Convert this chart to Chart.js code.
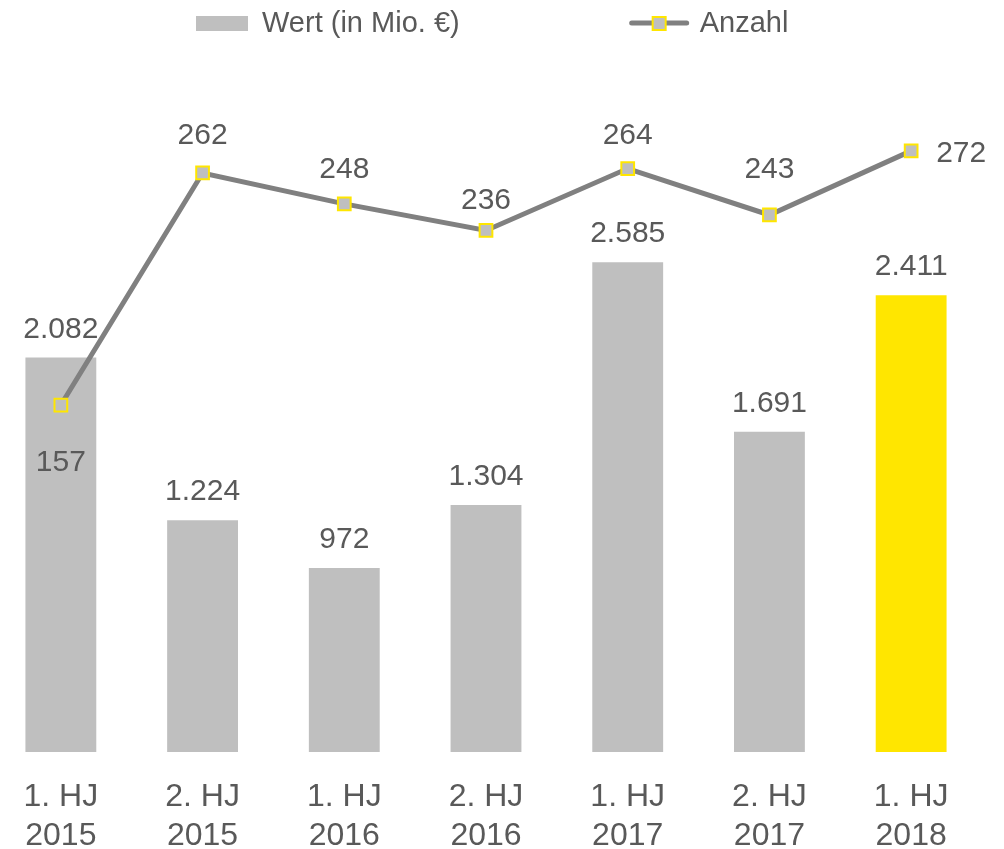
<!DOCTYPE html>
<html>
<head>
<meta charset="utf-8">
<script src="https://cdn.jsdelivr.net/npm/chart.js@4.4.0/dist/chart.umd.min.js"></script>
<style>
  html, body { margin: 0; padding: 0; overflow: hidden; background: #fff; }
  #wrap { position: absolute; left: -21px; top: 0; width: 1025px; height: 849px; }
</style>
</head>
<body>
<div id="wrap"><canvas id="chart"></canvas></div>
<script>
const labels = [
  ['1. HJ', '2015'], ['2. HJ', '2015'], ['1. HJ', '2016'], ['2. HJ', '2016'],
  ['1. HJ', '2017'], ['2. HJ', '2017'], ['1. HJ', '2018']
];
const wert = [2082, 1224, 972, 1304, 2585, 1691, 2411];
const anzahl = [157, 262, 248, 236, 264, 243, 272];
const barColors = ['#BFBFBF', '#BFBFBF', '#BFBFBF', '#BFBFBF', '#BFBFBF', '#BFBFBF', '#FFE600'];
// where the Anzahl value sits relative to its point
const anzahlLabelPos = ['below', 'above', 'above', 'above', 'above', 'above', 'right'];
const anzahlLabelGap = [66, 29, 26, 21, 25, 37, 25];
const seriesNames = ['Wert (in Mio. €)', 'Anzahl'];

const textColor = '#595959';
const fontFamily = '"Liberation Sans", Arial, sans-serif';
const shiftX = 21; // canvas is pushed left so the first bar sits near the edge

function fmt(v) {
  // German thousands separator
  return String(v).replace(/\B(?=(\d{3})+(?!\d))/g, '.');
}

const topLegend = {
  id: 'topLegend',
  afterDraw(chart) {
    const ctx = chart.ctx;
    ctx.save();
    ctx.font = '29px ' + fontFamily;
    ctx.textBaseline = 'middle';
    ctx.textAlign = 'left';
    const cy = 23;
    let x = 196 + shiftX;
    // bar item
    ctx.fillStyle = '#BFBFBF';
    ctx.fillRect(x, 16, 52, 15);
    x += 52 + 14;
    ctx.fillStyle = textColor;
    ctx.fillText(seriesNames[0], x, cy + 1);
    x += ctx.measureText(seriesNames[0]).width + 172;
    // line item
    ctx.strokeStyle = '#808080';
    ctx.lineWidth = 5;
    ctx.lineCap = 'round';
    ctx.beginPath();
    ctx.moveTo(x, cy);
    ctx.lineTo(x + 55, cy);
    ctx.stroke();
    ctx.fillStyle = '#BFBFBF';
    ctx.strokeStyle = '#FFE600';
    ctx.lineWidth = 2;
    ctx.fillRect(x + 21, cy - 6, 13, 13);
    ctx.strokeRect(x + 21, cy - 6, 13, 13);
    x += 55 + 13;
    ctx.fillStyle = textColor;
    ctx.fillText(seriesNames[1], x, cy + 1);
    ctx.restore();
  }
};

const valueLabels = {
  id: 'valueLabels',
  afterDatasetsDraw(chart) {
    const ctx = chart.ctx;
    ctx.save();
    ctx.font = '30px ' + fontFamily;
    ctx.fillStyle = textColor;
    ctx.textBaseline = 'alphabetic';
    ctx.textAlign = 'center';
    chart.getDatasetMeta(1).data.forEach((bar, i) => {
      ctx.fillText(fmt(wert[i]), bar.x, bar.y - 20);
    });
    chart.getDatasetMeta(0).data.forEach((pt, i) => {
      const pos = anzahlLabelPos[i];
      const gap = anzahlLabelGap[i];
      if (pos === 'below') {
        ctx.textAlign = 'center';
        ctx.fillText(fmt(anzahl[i]), pt.x, pt.y + gap);
      } else if (pos === 'right') {
        ctx.textAlign = 'left';
        ctx.fillText(fmt(anzahl[i]), pt.x + gap, pt.y + 11);
      } else {
        ctx.textAlign = 'center';
        ctx.fillText(fmt(anzahl[i]), pt.x, pt.y - gap);
      }
    });
    ctx.restore();
  }
};

new Chart(document.getElementById('chart'), {
  type: 'bar',
  data: {
    labels: labels,
    datasets: [
      {
        type: 'line',
        label: seriesNames[1],
        data: anzahl,
        yAxisID: 'y1',
        order: 0,
        borderColor: '#808080',
        borderWidth: 5,
        tension: 0,
        pointStyle: 'rect',
        pointRadius: 9,
        pointHoverRadius: 9,
        pointBackgroundColor: '#BFBFBF',
        pointBorderColor: '#FFE600',
        pointBorderWidth: 2
      },
      {
        type: 'bar',
        label: seriesNames[0],
        data: wert,
        yAxisID: 'y',
        order: 1,
        backgroundColor: barColors,
        barPercentage: 0.5,
        categoryPercentage: 1
      }
    ]
  },
  options: {
    responsive: true,
    maintainAspectRatio: false,
    animation: false,
    layout: { padding: { top: 89, right: 22, left: 0, bottom: 0 } },
    plugins: {
      legend: { display: false },
      tooltip: { enabled: false }
    },
    scales: {
      x: {
        grid: { display: false, drawTicks: false },
        border: { display: false },
        ticks: {
          color: textColor,
          padding: 25,
          font: { family: fontFamily, size: 32, lineHeight: 1.24 }
        },
        afterFit(scale) { scale.height = 97; }
      },
      y: { display: false, min: 0, max: 3500 },
      y1: { display: false, min: 0, max: 300, position: 'right' }
    }
  },
  plugins: [valueLabels, topLegend]
});
</script>
</body>
</html>
